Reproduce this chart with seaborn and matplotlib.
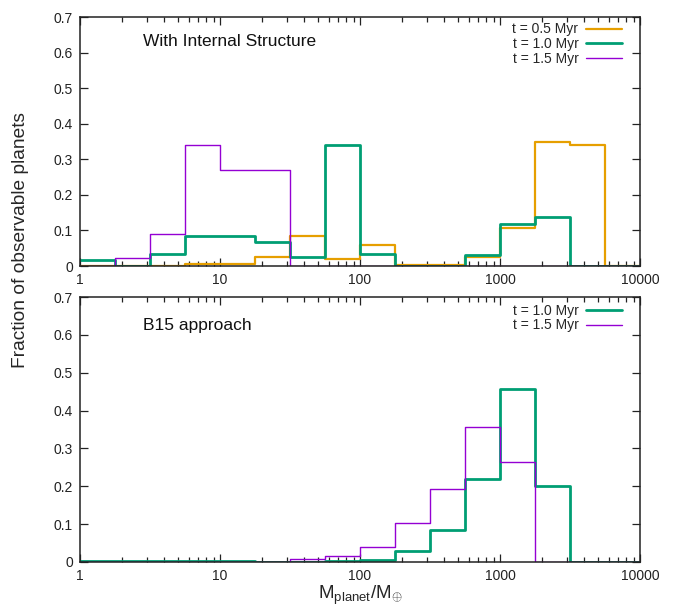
import numpy as np
import pandas as pd
import matplotlib
matplotlib.use("Agg")
import matplotlib.pyplot as plt
from matplotlib.ticker import FixedLocator, FuncFormatter, LogLocator, NullFormatter
import seaborn as sns

# Mass bin edges (quarter-decade bins, Earth masses)
mass_edges = [1, 1.778, 3.162, 5.623, 10, 17.78, 31.62, 56.23, 100,
              177.8, 316.2, 562.3, 1000, 1778, 3162, 5623, 10000]

# Fraction of observable planets per bin -- model with internal structure
struct_t05 = [0.0, 0.0, 0.0, 0.006, 0.006, 0.026, 0.085, 0.020, 0.058,
              0.004, 0.004, 0.025, 0.108, 0.349, 0.340, 0.0]
struct_t10 = [0.017, 0.0, 0.034, 0.085, 0.085, 0.067, 0.024, 0.339, 0.033,
              0.0, 0.0, 0.032, 0.118, 0.139, 0.0, 0.0]
struct_t15 = [0.0, 0.022, 0.089, 0.339, 0.269, 0.269, 0.0, 0.0, 0.0,
              0.0, 0.0, 0.0, 0.0, 0.0, 0.0, 0.0]

# Fraction of observable planets per bin -- B15 approach
b15_t10 = [0.002, 0.002, 0.002, 0.002, 0.002, 0.0, 0.0, 0.002, 0.006,
           0.028, 0.085, 0.218, 0.458, 0.200, 0.0, 0.0]
b15_t15 = [0.001, 0.001, 0.001, 0.001, 0.001, 0.001, 0.007, 0.016, 0.040,
           0.102, 0.194, 0.357, 0.264, 0.0, 0.0, 0.0]

colors = {"t = 0.5 Myr": "#E69F00", "t = 1.0 Myr": "#009E73", "t = 1.5 Myr": "#9400D3"}
widths = {"t = 0.5 Myr": 1.6, "t = 1.0 Myr": 2.0, "t = 1.5 Myr": 1.0}

panel_titles = ["With Internal Structure", "B15 approach"]
x_ticks = [1, 10, 100, 1000, 10000]
y_ticks = [0, 0.1, 0.2, 0.3, 0.4, 0.5, 0.6, 0.7]

sns.set_theme(style="ticks")
plt.rcParams["font.family"] = ["Liberation Sans", "DejaVu Sans"]
plt.rcParams["mathtext.fontset"] = "custom"
plt.rcParams["mathtext.rm"] = "Liberation Sans"
plt.rcParams["mathtext.it"] = "Liberation Sans:italic"


def step_frame(values, label):
    # steps-post needs one extra y value at the closing edge
    return pd.DataFrame({"mass": mass_edges,
                         "frac": list(values) + [values[-1]],
                         "series": label})


fig = plt.figure(figsize=(6.79, 6.08), dpi=100)
ax_top = fig.add_axes([0.1178, 0.5625, 0.8248, 0.4095])
ax_bot = fig.add_axes([0.1178, 0.0757, 0.8248, 0.4358])

panels = [
    (ax_top, [("t = 0.5 Myr", struct_t05), ("t = 1.0 Myr", struct_t10), ("t = 1.5 Myr", struct_t15)],
     0.90, (0.983, 1.012)),
    (ax_bot, [("t = 1.0 Myr", b15_t10), ("t = 1.5 Myr", b15_t15)],
     0.894, (0.983, 1.006)),
]

for (ax, series, title_y, legend_anchor), title in zip(panels, panel_titles):
    ax.set_xscale("log")
    for label, vals in series:
        df = step_frame(vals, label)
        sns.lineplot(data=df, x="mass", y="frac", ax=ax, estimator=None, sort=False,
                     drawstyle="steps-post", color=colors[label], lw=widths[label],
                     label=label)
    ax.set_xlim(1, 10000)
    ax.set_ylim(0, 0.7)
    ax.set_xlabel("")
    ax.set_ylabel("")
    ax.xaxis.set_major_locator(FixedLocator(x_ticks))
    ax.xaxis.set_major_formatter(FuncFormatter(lambda v, p: f"{v:g}"))
    ax.xaxis.set_minor_locator(LogLocator(base=10, subs=np.arange(2, 10)))
    ax.xaxis.set_minor_formatter(NullFormatter())
    ax.yaxis.set_major_locator(FixedLocator(y_ticks))
    ax.yaxis.set_major_formatter(FuncFormatter(lambda v, p: "0" if v == 0 else f"{v:.1f}"))
    ax.tick_params(which="both", direction="in", top=True, right=True,
                   labelsize=10, colors="#222222", width=0.9)
    ax.tick_params(which="major", length=6, pad=5)
    ax.tick_params(which="minor", length=3.5)
    for sp in ax.spines.values():
        sp.set_color("#222222")
        sp.set_linewidth(1.1)
    ax.text(0.1125, title_y, title, transform=ax.transAxes,
            fontsize=12.5, ha="left", va="center", color="#111111")
    ax.legend(loc="upper right", bbox_to_anchor=legend_anchor, frameon=False,
              markerfirst=False, fontsize=10, handlelength=2.6, handletextpad=0.55,
              labelspacing=0.05, borderaxespad=0.2)

fig.text(0.03, 0.605, "Fraction of observable planets", rotation=90,
         ha="center", va="center", fontsize=13.8)
fig.text(0.53, 0.02, r"M$_{\rm planet}$/M$_{\oplus}$", ha="center", va="center", fontsize=13.5)

fig.savefig("out.png", dpi=100)
